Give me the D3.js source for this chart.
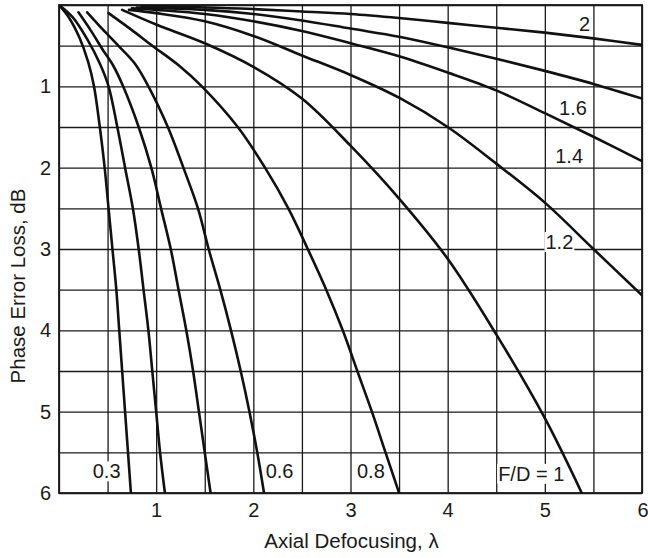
<!DOCTYPE html>
<html>
<head>
<meta charset="utf-8">
<script src="https://cdn.jsdelivr.net/npm/d3@7"></script>
<style>
  html, body { margin: 0; padding: 0; background: #fff; }
  svg { display: block; font-family: "Liberation Sans", Arial, Helvetica, sans-serif; }
</style>
</head>
<body>
<svg id="chart" width="648" height="558"></svg>
<script>
// ---- data ----
const xTicks = [1, 2, 3, 4, 5, 6];
const yTicks = [1, 2, 3, 4, 5, 6];
const gridValues = [0, 0.5, 1, 1.5, 2, 2.5, 3, 3.5, 4, 4.5, 5, 5.5, 6];

// curves: [axial defocusing (λ), phase error loss (dB)]
const fd03 = [[0,0],[0.1,0.15],[0.21,0.4],[0.30,0.7],[0.36,1.0],[0.42,1.5],[0.47,2.0],[0.51,2.5],[0.55,3.0],[0.59,3.5],[0.62,4.0],[0.65,4.5],[0.68,5.0],[0.71,5.5],[0.74,6.0]];
const fd04 = [[0,0],[0.14,0.15],[0.29,0.42],[0.42,0.72],[0.51,1.0],[0.60,1.5],[0.68,2.0],[0.76,2.5],[0.82,3.0],[0.87,3.5],[0.92,4.0],[0.96,4.5],[1.00,5.0],[1.04,5.5],[1.09,6.0]];
const fd05 = [[0.2,0.09],[0.32,0.3],[0.45,0.55],[0.56,0.75],[0.66,1.0],[0.82,1.5],[0.95,2.0],[1.05,2.5],[1.15,3.0],[1.23,3.5],[1.31,4.0],[1.38,4.5],[1.44,5.0],[1.50,5.5],[1.56,6.0]];
const fd06 = [[0.29,0.09],[0.45,0.3],[0.61,0.5],[0.78,0.72],[0.92,1.0],[1.12,1.5],[1.28,2.0],[1.43,2.5],[1.54,3.0],[1.66,3.5],[1.77,4.0],[1.87,4.5],[1.96,5.0],[2.04,5.5],[2.11,6.0]];
const fd08 = [[0.51,0.1],[0.74,0.3],[0.96,0.5],[1.24,0.75],[1.47,1.0],[1.84,1.5],[2.12,2.0],[2.36,2.5],[2.56,3.0],[2.75,3.5],[2.92,4.0],[3.07,4.5],[3.22,5.0],[3.36,5.5],[3.50,6.0]];
const fd10 = [[0.65,0.06],[1.0,0.24],[1.5,0.47],[2.0,0.76],[2.5,1.15],[3.0,1.73],[3.5,2.38],[4.0,3.12],[4.5,4.05],[5.0,5.08],[5.38,6.0]];
const fd12 = [[0.72,0.06],[1.0,0.1],[1.5,0.2],[2.0,0.38],[2.5,0.62],[3.0,0.86],[3.5,1.14],[4.0,1.5],[4.5,1.95],[5.0,2.43],[5.5,3.0],[6.0,3.57]];
const fd14 = [[0.75,0.04],[1.0,0.06],[1.5,0.11],[2.0,0.2],[2.5,0.32],[3.0,0.47],[3.5,0.63],[4.0,0.83],[4.5,1.05],[5.0,1.33],[5.5,1.62],[6.0,1.92]];
const fd16 = [[0.8,0.03],[1.5,0.06],[2.0,0.11],[2.5,0.19],[3.0,0.29],[3.5,0.39],[4.0,0.52],[4.5,0.66],[5.0,0.81],[5.5,0.97],[6.0,1.15]];
const fd20 = [[0.85,0.02],[1.5,0.03],[2.0,0.05],[2.5,0.08],[3.0,0.11],[3.5,0.16],[4.0,0.22],[4.5,0.28],[5.0,0.34],[5.5,0.41],[6.0,0.49]];
const curves = [fd03, fd04, fd05, fd06, fd08, fd10, fd12, fd14, fd16, fd20];

// curve labels: text, x centre (λ), baseline (dB)
const labelText = ["0.3", "0.6", "0.8", "F/D = 1", "1.2", "1.4", "1.6", "2"];
const labelX    = [0.49, 2.27, 3.21, 4.86, 5.15, 5.25, 5.29, 5.41];
const labelY    = [5.82, 5.82, 5.82, 5.85, 3.0, 1.94, 1.35, 0.32];

// ---- drawing ----
const svg = d3.select("#chart");
const x = d3.scaleLinear().domain([0, 6]).range([59, 642]);
const y = d3.scaleLinear().domain([0, 6]).range([5, 493]);
const ink = "#1a1a1a";

// grid via axes
const gx = svg.append("g").attr("transform", `translate(0,${y(6)})`)
  .call(d3.axisBottom(x).tickValues(gridValues).tickSize(-(y(6) - y(0))).tickFormat(""));
const gy = svg.append("g").attr("transform", `translate(${x(0)},0)`)
  .call(d3.axisLeft(y).tickValues(gridValues).tickSize(-(x(6) - x(0))).tickFormat(""));
[gx, gy].forEach(g => {
  g.select(".domain").remove();
  g.selectAll(".tick line").attr("stroke", ink).attr("stroke-width", 1.3);
});

// label backgrounds layer (below curves), label text layer (above curves)
const bgLayer = svg.append("g");

// frame
svg.append("rect")
  .attr("x", x(0)).attr("y", y(0))
  .attr("width", x(6) - x(0)).attr("height", y(6) - y(0))
  .attr("fill", "none").attr("stroke", ink).attr("stroke-width", 1.8);

// tick labels via axes
const lx = svg.append("g").attr("transform", `translate(0,${y(6)})`)
  .call(d3.axisBottom(x).tickValues(xTicks).tickSize(0).tickPadding(10).tickFormat(d3.format("d")));
const ly = svg.append("g").attr("transform", `translate(${x(0)},0)`)
  .call(d3.axisLeft(y).tickValues(yTicks).tickSize(0).tickPadding(8).tickFormat(d3.format("d")));
[lx, ly].forEach(g => {
  g.select(".domain").remove();
  g.selectAll("text").attr("font-size", 20).attr("fill", ink)
    .attr("font-family", "'Liberation Sans', Arial, Helvetica, sans-serif");
});
lx.selectAll(".tick").filter(d => d === 6).select("text").attr("text-anchor", "end").attr("dx", "0.3em");

// curves
svg.append("clipPath").attr("id", "plotclip").append("rect")
  .attr("x", x(0)).attr("y", y(0)).attr("width", x(6) - x(0)).attr("height", y(6) - y(0));
const line = d3.line().x(d => x(d[0])).y(d => y(d[1])).curve(d3.curveCatmullRom.alpha(0.5));
svg.append("g").attr("clip-path", "url(#plotclip)")
  .selectAll("path").data(curves).join("path")
  .attr("d", line)
  .attr("fill", "none").attr("stroke", "#111").attr("stroke-width", 2.6)
  .attr("stroke-linecap", "round").attr("stroke-linejoin", "round");

// curve labels with white background
const lg = svg.append("g");
labelText.forEach((t, i) => {
  const txt = lg.append("text")
    .attr("x", x(labelX[i])).attr("y", y(labelY[i]))
    .attr("text-anchor", "middle").attr("font-size", 20).attr("fill", ink)
    .text(t);
  const bb = txt.node().getBBox();
  bgLayer.append("rect")
    .attr("x", bb.x - 1).attr("y", bb.y + 1)
    .attr("width", bb.width + 2).attr("height", bb.height - 2)
    .attr("fill", "#fff");
});

// axis titles
svg.append("text")
  .attr("x", (x(0) + x(6)) / 2 + 1).attr("y", 548)
  .attr("text-anchor", "middle").attr("font-size", 20.5).attr("fill", ink)
  .text("Axial Defocusing, λ");
svg.append("text")
  .attr("transform", `translate(25,${(y(0) + y(6)) / 2 + 37}) rotate(-90)`)
  .attr("text-anchor", "middle").attr("font-size", 20.5).attr("fill", ink)
  .text("Phase Error Loss, dB");
</script>
</body>
</html>
